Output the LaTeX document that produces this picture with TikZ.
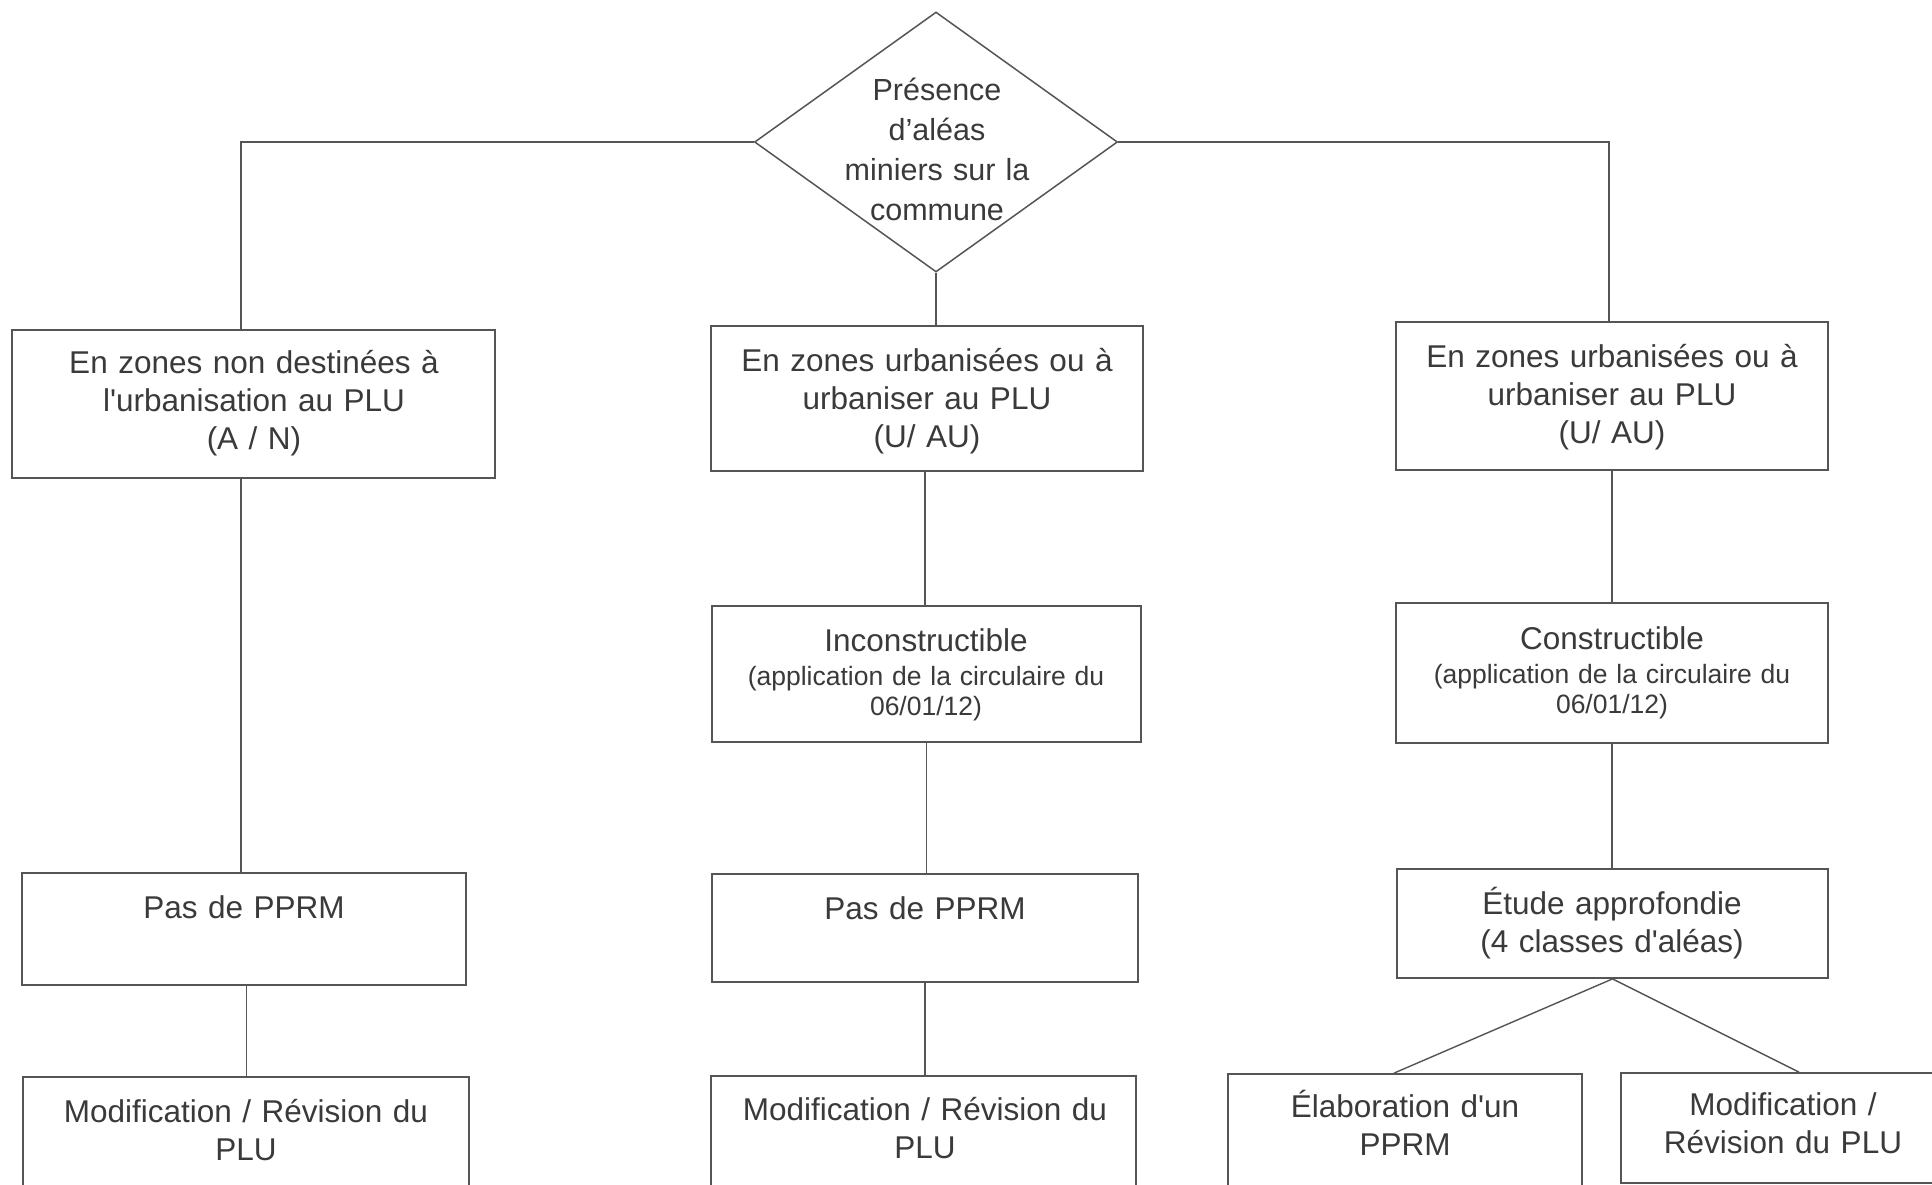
\documentclass[tikz,border=0pt]{standalone}
\usepackage{fontspec}
\setmainfont{Liberation Sans}
\usetikzlibrary{shapes.geometric}
\definecolor{ink}{HTML}{3A3A3A}
\definecolor{rule}{HTML}{555555}
\begin{document}
\begin{tikzpicture}[x=1pt,y=-1pt,
  box/.style={draw=rule, line width=1.8pt, rectangle, inner sep=0pt},
  conn/.style={draw=rule, line width=1.4pt},
  txt/.style={text=ink, align=center, inner sep=0pt, text width=700pt, anchor=base,
              font=\fontsize{31.5}{38}\selectfont},
  sub/.style={txt, font=\fontsize{26.5}{30}\selectfont},
  dtxt/.style={txt, font=\fontsize{30.5}{40}\selectfont}]
\clip (0,0) rectangle (1932,1184);
\fill[white] (0,0) rectangle (1932,1184);

% decision diamond
\node[draw=rule, line width=1.5pt, diamond, minimum width=363pt, minimum height=260pt, inner sep=0pt] (dia) at (936,142) {};
\node[dtxt] (diat) at (937,100) {Présence\\d’aléas\\miniers sur la\\commune};

% boxes
\node[box, minimum width=483pt, minimum height=148pt] (b1) at (253.5,404) {};
\node[box, minimum width=432pt, minimum height=145pt] (b2) at (927,398.5) {};
\node[box, minimum width=432pt, minimum height=148pt] (b3) at (1612,396) {};
\node[box, minimum width=429pt, minimum height=136pt] (inc) at (926.5,674) {};
\node[box, minimum width=432pt, minimum height=140pt] (con) at (1612,673) {};
\node[box, minimum width=444pt, minimum height=112pt] (p1) at (244,929) {};
\node[box, minimum width=426pt, minimum height=108pt] (p2) at (925,928) {};
\node[box, minimum width=431pt, minimum height=109pt] (etu) at (1612.5,923.5) {};
\node[box, minimum width=446pt, minimum height=123pt] (m1) at (246,1138.5) {};
\node[box, minimum width=425pt, minimum height=124pt] (m2) at (923.5,1138) {};
\node[box, minimum width=354pt, minimum height=126pt] (ela) at (1405,1137) {};
\node[box, minimum width=323pt, minimum height=110pt] (mr) at (1782.5,1128) {};

% texts
\node[txt] (b1t) at (254,373) {En zones non destinées à\\l\textquotesingle urbanisation au PLU\\(A / N)};
\node[txt] (b2t) at (927,371) {En zones urbanisées ou à\\urbaniser au PLU\\(U/ AU)};
\node[txt] (b3t) at (1612,367) {En zones urbanisées ou à\\urbaniser au PLU\\(U/ AU)};
\node[txt] (inct) at (926,651) {Inconstructible};
\node[sub] (incs) at (926,685) {(application de la circulaire du\\06/01/12)};
\node[txt] (cont) at (1612,649) {Constructible};
\node[sub] (cons) at (1612,683) {(application de la circulaire du\\06/01/12)};
\node[txt] (p1t) at (244,918) {Pas de PPRM};
\node[txt] (p2t) at (925,919) {Pas de PPRM};
\node[txt] (etut) at (1612,914) {Étude approfondie\\(4 classes d\textquotesingle aléas)};
\node[txt] (m1t) at (246,1122) {Modification / Révision du\\PLU};
\node[txt] (m2t) at (925,1120) {Modification / Révision du\\PLU};
\node[txt] (elat) at (1405,1117) {Élaboration d\textquotesingle un\\PPRM};
\node[txt] (mrt) at (1783,1115) {Modification /\\Révision du PLU};

% connectors
\draw[conn] (dia.west) -| ([xshift=-12.5pt]b1.north);
\draw[conn] (dia.east) -| ([xshift=-3pt]b3.north);
\draw[conn] (dia.south) -- (dia.south |- b2.north);
\draw[conn] ([xshift=-2pt]b2.south) -- ([xshift=-2pt]b2.south |- inc.north);
\draw[conn] (inc.south) -- (inc.south |- p2.north);
\draw[conn] (p2.south) -- (p2.south |- m2.north);
\draw[conn] ([xshift=-12.5pt]b1.south) -- ([xshift=-12.5pt]b1.south |- p1.north);
\draw[conn] ([xshift=2.5pt]p1.south) -- ([xshift=2.5pt]p1.south |- m1.north);
\draw[conn] (b3.south) -- (b3.south |- con.north);
\draw[conn] (con.south) -- (con.south |- etu.north);
\draw[conn] (etu.south) -- ([xshift=-11pt]ela.north);
\draw[conn] (etu.south) -- ([xshift=16.5pt]mr.north);
\end{tikzpicture}
\end{document}
